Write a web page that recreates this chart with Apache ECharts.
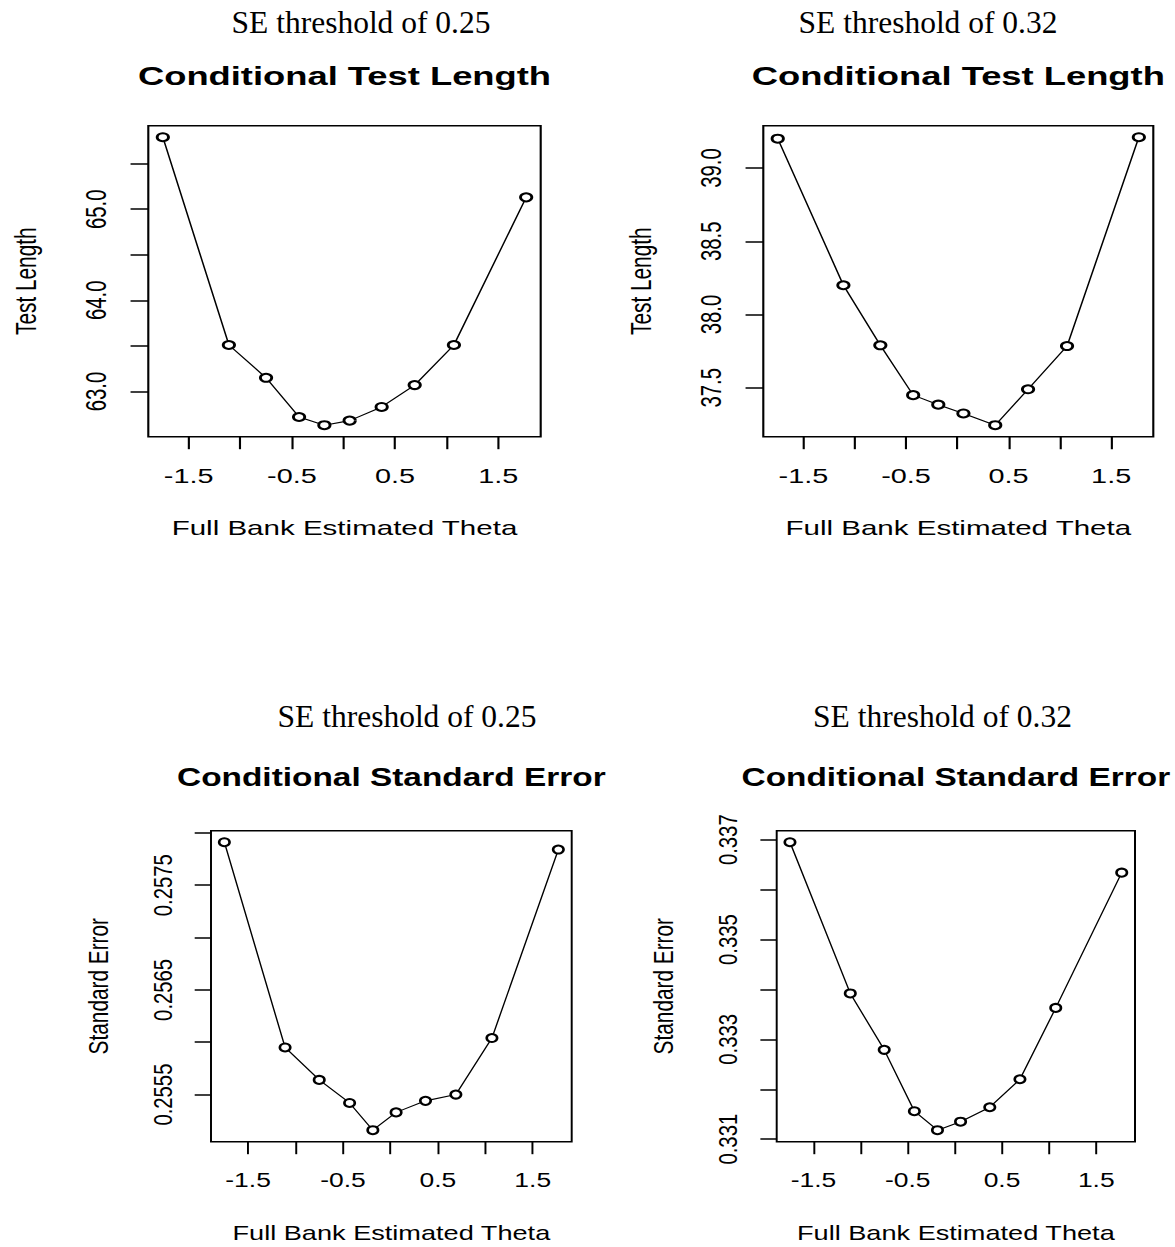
<!DOCTYPE html>
<html>
<head>
<meta charset="utf-8">
<title>Conditional Test Length and Standard Error</title>
<script src="https://cdn.jsdelivr.net/npm/echarts@6/dist/echarts.min.js"></script>
<style>
  html, body { margin: 0; padding: 0; background: #fff; overflow: hidden; width: 1175px; height: 1247px; }
  .row { position: absolute; left: 0; transform-origin: 0 0; }
</style>
</head>
<body>
<div id="rowTop" class="row"></div>
<div id="rowBottom" class="row"></div>
<script>
// Full-bank theta group centres (shared by all four panels)
const theta = [-1.75, -1.11, -0.75, -0.43, -0.185, 0.06, 0.37, 0.69, 1.07, 1.77];

// Mean test length per theta group
const testLength025 = [65.79, 63.51, 63.15, 62.72, 62.63, 62.68, 62.83, 63.07, 63.51, 65.13];
const testLength032 = [39.20, 38.20, 37.79, 37.45, 37.385, 37.325, 37.245, 37.49, 37.785, 39.21];

// Mean standard error per theta group
const stdError025 = [0.25791, 0.25595, 0.25564, 0.25542, 0.25516, 0.25533, 0.25544, 0.25550, 0.25604, 0.25784];
const stdError032 = [0.33695, 0.33392, 0.33279, 0.33156, 0.33118, 0.33135, 0.33164, 0.33220, 0.33363, 0.33634];

// Tick marks and labelled ticks
const thetaTicks = [-1.5, -1, -0.5, 0, 0.5, 1, 1.5];
const thetaLabels = [-1.5, -0.5, 0.5, 1.5];
const testLength025Ticks = [63, 63.5, 64, 64.5, 65, 65.5];
const testLength025Labels = [63, 64, 65];
const testLength032Ticks = [37.5, 38, 38.5, 39];
const testLength032Labels = [37.5, 38, 38.5, 39];
const stdError025Ticks = [0.2555, 0.256, 0.2565, 0.257, 0.2575, 0.258];
const stdError025Labels = [0.2555, 0.2565, 0.2575];
const stdError032Ticks = [0.331, 0.332, 0.333, 0.334, 0.335, 0.336, 0.337];
const stdError032Labels = [0.331, 0.333, 0.335, 0.337];

const headerText = ['SE threshold of 0.25', 'SE threshold of 0.32'];
const titleLength = 'Conditional Test Length';
const titleError = 'Conditional Standard Error';
const xName = 'Full Bank Estimated Theta';

// Range padded by 4% on each side, as in base R plots
function paddedRange(values) {
  const lo = Math.min(...values), hi = Math.max(...values);
  const d = (hi - lo) * 0.04;
  return [lo - d, hi + d];
}

const SANS = '"Liberation Sans", Arial, sans-serif';
const SERIF = '"Liberation Serif", "Times New Roman", serif';
const TICK_FONT = 20.3;
const NAME_FONT = 20.8;
const TITLE_FONT = 25.6;

const rows = [
  {
    id: 'rowTop', stretch: 1.42, offset: 0, height: 600,
    panels: [
      { header: headerText[0], headerX: 361, headerY: 22, title: titleLength, titleY: 76,
        box: [148.3, 125.7, 392.4, 311], yName: 'Test Length', values: testLength025,
        ticks: testLength025Ticks, labels: testLength025Labels, digits: 1 },
      { header: headerText[1], headerX: 928, headerY: 22, title: titleLength, titleY: 76,
        box: [763.3, 125.7, 390, 311], yName: 'Test Length', values: testLength032,
        ticks: testLength032Ticks, labels: testLength032Labels, digits: 1 }
    ]
  },
  {
    id: 'rowBottom', stretch: 1.305, offset: 600, height: 647,
    panels: [
      { header: headerText[0], headerX: 407, headerY: 716, title: titleError, titleY: 777,
        box: [211, 830.7, 360.7, 311], yName: 'Standard Error', values: stdError025,
        ticks: stdError025Ticks, labels: stdError025Labels, digits: 4 },
      { header: headerText[1], headerX: 942.5, headerY: 716, title: titleError, titleY: 777,
        box: [776.7, 830.7, 358.3, 311], yName: 'Standard Error', values: stdError032,
        ticks: stdError032Ticks, labels: stdError032Labels, digits: 3 }
    ]
  }
];

const xRange = paddedRange(theta);

rows.forEach(row => {
  const s = row.stretch;
  const el = document.getElementById(row.id);
  el.style.top = row.offset + 'px';
  el.style.width = (1175 / s) + 'px';
  el.style.height = row.height + 'px';
  el.style.transform = 'scaleX(' + s + ')';

  const grid = [], xAxis = [], yAxis = [], series = [], title = [], graphic = [];

  row.panels.forEach((p, i) => {
    const [bl, bt, bw, bh] = p.box;
    const yRange = paddedRange(p.values);

    grid.push({
      left: bl / s, top: bt - row.offset, width: bw / s, height: bh,
      show: true, borderColor: '#000', borderWidth: 1.5, backgroundColor: 'transparent',
      containLabel: false, outerBoundsMode: 'none'
    });

    xAxis.push({
      type: 'value', gridIndex: i, min: xRange[0], max: xRange[1], position: 'bottom',
      axisLine: { show: false, onZero: false },
      splitLine: { show: false },
      axisTick: { show: true, customValues: thetaTicks, length: 12.5,
                  lineStyle: { color: '#000', width: 1.5 } },
      axisLabel: { show: true, customValues: thetaLabels, margin: 28.6,
                   formatter: v => v.toFixed(1),
                   fontFamily: SANS, fontSize: TICK_FONT, color: '#000' },
      name: xName, nameLocation: 'middle', nameGap: 80.6,
      nameTextStyle: { fontFamily: SANS, fontSize: NAME_FONT, color: '#000' }
    });

    yAxis.push({
      type: 'value', gridIndex: i, min: yRange[0], max: yRange[1], position: 'left',
      axisLine: { show: false, onZero: false },
      splitLine: { show: false },
      axisTick: { show: true, customValues: p.ticks, length: 12.5,
                  lineStyle: { color: '#000', width: 1.5 } },
      axisLabel: { show: true, customValues: p.labels, margin: 27, rotate: 90,
                   formatter: v => v.toFixed(p.digits),
                   fontFamily: SANS, fontSize: TICK_FONT, color: '#000' },
      name: p.yName, nameLocation: 'middle', nameGap: 76, nameRotate: 90,
      nameTextStyle: { fontFamily: SANS, fontSize: NAME_FONT, color: '#000' }
    });

    series.push({
      type: 'line', xAxisIndex: i, yAxisIndex: i,
      data: theta.map((t, k) => [t, p.values[k]]),
      symbol: 'emptyCircle', symbolSize: 8,
      itemStyle: { color: '#000', borderColor: '#000', borderWidth: 1 },
      lineStyle: { color: '#000', width: 1.1 },
      silent: true, animation: false
    });

    title.push({
      text: p.title, left: (bl + bw / 2) / s, top: p.titleY - row.offset - TITLE_FONT / 2,
      textAlign: 'center', padding: 0,
      textStyle: { fontFamily: SANS, fontWeight: 'bold', fontSize: TITLE_FONT, color: '#000' }
    });

    // Document headings sit outside the plots and are not widened
    graphic.push({
      type: 'text', x: p.headerX / s, y: p.headerY - row.offset, scaleX: 1 / s, silent: true,
      style: { text: p.header, font: '31.5px ' + SERIF, fill: '#000',
               align: 'center', verticalAlign: 'middle' }
    });
  });

  const chart = echarts.init(el, null, { renderer: 'svg' });
  chart.setOption({
    backgroundColor: '#fff',
    animation: false,
    title, grid, xAxis, yAxis, series, graphic
  });
});
</script>
</body>
</html>
